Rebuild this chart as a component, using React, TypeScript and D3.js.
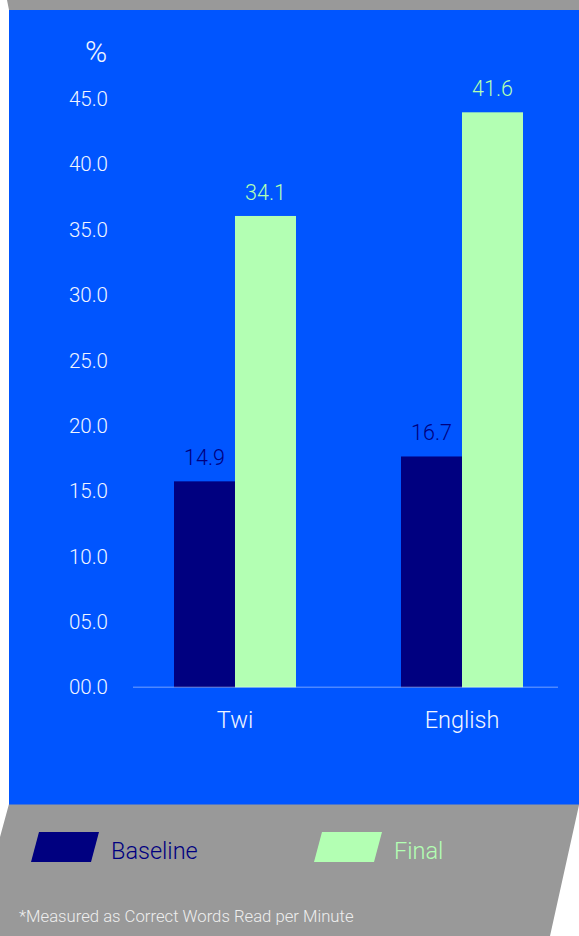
import React from "react";
import * as d3 from "d3";

// Reading fluency by language, baseline vs final
const categories = ["Twi", "English"];
const seriesNames = ["Baseline", "Final"];
const baselineValues = [14.9, 16.7];
const finalValues = [34.1, 41.6];
const tickLabels = ["00.0", "05.0", "10.0", "15.0", "20.0", "25.0", "30.0", "35.0", "40.0", "45.0"];
const seriesColors = ["#000080", "#b3ffb3"];
const unitLabel = "%";
const footnote = "*Measured as Correct Words Read per Minute";

const W = 579;
const H = 936;
const BLUE = "#0055ff";
const GRAY = "#999999";
const FONT = "Roboto, 'Open Sans', sans-serif";

export default function App() {
  const axisY = 687.3;

  // bar geometry
  const x = d3.scaleBand<string>().domain(categories).range([174, 523]).paddingInner(0.4626).paddingOuter(0);
  const xs = d3.scaleBand<string>().domain(seriesNames).range([0, x.bandwidth()]).padding(0);
  const y = d3.scaleLinear().domain([0, 45]).range([axisY, axisY - 45 * 13.822]);

  // tick label positions along the value axis
  const tickPos = d3.scalePoint<string>().domain(tickLabels).range([axisY, 98.9]);

  const rows = categories.map((c, i) => ({
    category: c,
    values: [baselineValues[i], finalValues[i]],
  }));

  const legendX = d3.scalePoint<string>().domain(seriesNames).range([31, 314]);

  return (
    <svg
      width={W}
      height={H}
      style={{ position: "absolute", left: 0, top: 0, display: "block", background: "#ffffff" }}
    >
      {/* gray backing panel */}
      <polygon
        points={`7,0 ${W},0 ${W},805 550,${H} 0,${H} 0,837 9,804 9,10`}
        fill={GRAY}
      />
      {/* blue plot panel */}
      <rect x={9} y={10} width={W - 9} height={794.5} fill={BLUE} />

      {/* unit label */}
      <text x={96} y={62} textAnchor="middle" fontFamily={FONT} fontWeight={300} fontSize={30} fill="#f2f5ff">
        {unitLabel}
      </text>

      {/* tick labels */}
      {tickLabels.map((t) => (
        <text
          key={t}
          x={108}
          y={(tickPos(t) as number) + 7.1}
          textAnchor="end"
          fontFamily={FONT}
          fontWeight={300}
          fontSize={20.5}
          fill="#f2f5ff"
        >
          {t}
        </text>
      ))}

      {/* bars */}
      {rows.map((r) => (
        <g key={r.category} transform={`translate(${x(r.category)},0)`}>
          {r.values.map((v, j) => (
            <rect
              key={seriesNames[j]}
              x={xs(seriesNames[j])}
              y={y(v)}
              width={xs.bandwidth()}
              height={axisY - y(v)}
              fill={seriesColors[j]}
            />
          ))}
          {r.values.map((v, j) => (
            <text
              key={"l" + seriesNames[j]}
              x={(xs(seriesNames[j]) as number) + xs.bandwidth() / 2}
              y={y(v) - 16}
              textAnchor="middle"
              fontFamily={FONT}
              fontWeight={300}
              fontSize={21.5}
              fill={seriesColors[j]}
            >
              {v.toFixed(1)}
            </text>
          ))}
          <text
            x={x.bandwidth() / 2}
            y={728}
            textAnchor="middle"
            fontFamily={FONT}
            fontWeight={300}
            fontSize={23.5}
            fill="#f2f5ff"
          >
            {r.category}
          </text>
        </g>
      ))}

      {/* baseline axis line */}
      <line x1={133} x2={558} y1={axisY} y2={axisY} stroke="#ffffff" strokeOpacity={0.3} strokeWidth={1.5} />

      {/* legend */}
      {seriesNames.map((s, i) => {
        const lx = legendX(s) as number;
        return (
          <g key={s}>
            <polygon
              points={`${lx + 8},832 ${lx + 68},832 ${lx + 60},862 ${lx},862`}
              fill={seriesColors[i]}
            />
            <text x={lx + 80} y={859} fontFamily={FONT} fontWeight={300} fontSize={23.5} fill={seriesColors[i]}>
              {s}
            </text>
          </g>
        );
      })}

      {/* footnote */}
      <text x={19} y={922} fontFamily={FONT} fontWeight={300} fontSize={16.7} fill="#eeeeee">
        {footnote}
      </text>
    </svg>
  );
}
